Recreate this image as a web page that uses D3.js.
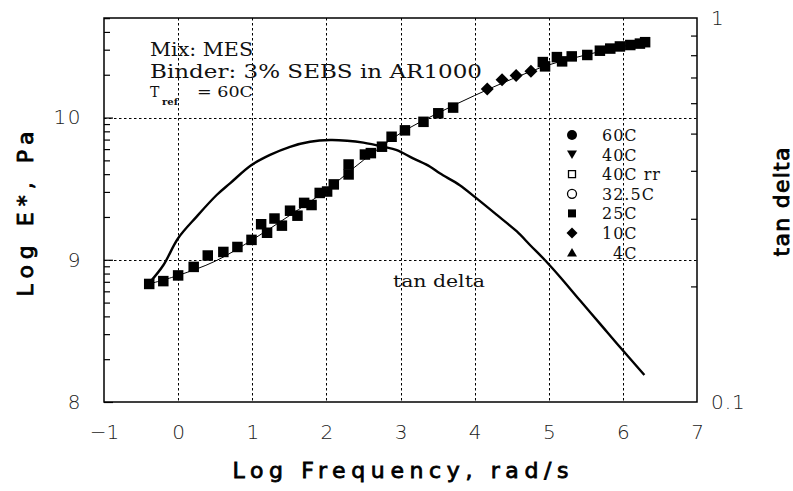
<!DOCTYPE html>
<html>
<head>
<meta charset="utf-8">
<script src="https://cdn.jsdelivr.net/npm/d3@7"></script>
<style>
  body { margin: 0; background: #fff; }
  svg { display: block; }
</style>
</head>
<body>
<svg id="chart" width="793" height="491"></svg>
<script>
// Master curve of |E*| reduced to 60C (log10 frequency, rad/s vs log10 E*, Pa)
const sqFreq = [-0.39, -0.20, 0.00, 0.21, 0.40, 0.61, 0.80, 0.99, 1.12, 1.20, 1.30, 1.40,
                1.51, 1.61, 1.70, 1.80, 1.91, 2.01, 2.10, 2.30, 2.30, 2.52, 2.60, 2.75,
                2.88, 3.06, 3.31, 3.51, 3.71, 4.92, 4.95, 5.11, 5.18, 5.31, 5.52, 5.69,
                5.83, 5.96, 6.10, 6.23, 6.30];
const sqLogE = [8.83, 8.85, 8.89, 8.95, 9.03, 9.055, 9.09, 9.14, 9.25, 9.19, 9.29, 9.24,
                9.345, 9.31, 9.40, 9.385, 9.47, 9.48, 9.53, 9.67, 9.60, 9.74, 9.75, 9.795,
                9.865, 9.91, 9.97, 10.03, 10.07, 10.39, 10.36, 10.425, 10.395, 10.43, 10.44, 10.47,
                10.485, 10.50, 10.51, 10.52, 10.53];
const dmFreq = [4.17, 4.37, 4.56, 4.76];
const dmLogE = [10.20, 10.265, 10.295, 10.325];

// Smooth fit through the master curve
const fitFreq = [-0.39, 0.0, 0.5, 1.0, 1.5, 2.0, 2.5, 3.0, 3.5, 4.0, 4.5, 5.0, 5.5, 6.0, 6.30];
const fitLogE = [8.83, 8.89, 8.99, 9.14, 9.31, 9.49, 9.70, 9.89, 10.03, 10.155, 10.27, 10.37, 10.44, 10.50, 10.53];

// tan delta master curve (right axis)
const tdFreq = [-0.39, -0.20, 0.00, 0.25, 0.52, 0.70, 0.99, 1.24, 1.51, 1.78, 2.05, 2.28,
                2.50, 2.77, 2.95, 3.17, 3.40, 3.53, 3.80, 4.01, 4.30, 4.57, 4.75, 4.95,
                5.15, 5.42, 5.69, 5.96, 6.29];
const tanDelta = [0.204, 0.227, 0.267, 0.304, 0.346, 0.371, 0.414, 0.440, 0.462, 0.476, 0.481, 0.479,
                  0.4735, 0.462, 0.453, 0.431, 0.410, 0.394, 0.367, 0.341, 0.307, 0.278, 0.256, 0.234,
                  0.212, 0.184, 0.160, 0.139, 0.1176];

const legendLabels = ["60C", "40C", "40C rr", "32.5C", "25C", "10C", "4C"];
const legendSymbols = ["dot", "triDown", "boxOpen", "ring", "box", "diamond", "triUp"];

const xTicks = [-1, 0, 1, 2, 3, 4, 5, 6, 7];
const yTicks = [8, 9, 10];
const tdTickLabels = [0.1, 1];
const noteLines = ["Mix: MES", "Binder: 3% SEBS in AR1000"];

const svg = d3.select("#chart");
const L = 104, R = 697, T = 18, B = 402;

const x = d3.scaleLinear().domain([-1, 7]).range([L, R]);
const y = d3.scaleLinear().domain([8, 10.7]).range([B, T]);
const yR = d3.scaleLog().domain([0.1, 1]).range([B, T]);

const tickFont = "'DejaVu Sans', 'Liberation Sans', sans-serif";
const serif = "'DejaVu Serif', 'Liberation Serif', serif";
const labelFont = "'DejaVu Sans', 'Liberation Sans', sans-serif";

// grid
const grid = svg.append("g").attr("stroke", "#000").attr("stroke-width", 1)
  .attr("stroke-dasharray", "2.5,2.5").attr("fill", "none");
grid.selectAll("line.v").data(xTicks.filter(d => d > -1 && d < 7)).join("line")
  .attr("x1", d => Math.round(x(d)) + 0.5).attr("x2", d => Math.round(x(d)) + 0.5)
  .attr("y1", T).attr("y2", B);
grid.selectAll("line.h").data(yTicks.filter(d => d > 8)).join("line")
  .attr("x1", L).attr("x2", R)
  .attr("y1", d => Math.round(y(d)) + 0.5).attr("y2", d => Math.round(y(d)) + 0.5);

// left axis ticks (inward)
const leftMinor = [];
[8, 9, 10].forEach(dec => {
  for (let k = 2; k <= 9; k++) {
    const v = dec + Math.log10(k);
    if (v < 10.7) leftMinor.push(v);
  }
});
const axL = svg.append("g").attr("transform", `translate(${L},0)`)
  .call(d3.axisRight(y).tickValues(leftMinor).tickSize(6).tickFormat(""));
const axLmaj = svg.append("g").attr("transform", `translate(${L},0)`)
  .call(d3.axisRight(y).tickValues(yTicks).tickSize(9).tickFormat(""));
[axL, axLmaj].forEach(g => { g.select(".domain").remove(); g.selectAll("line").attr("stroke-width", 1.2); });

const axLlab = svg.append("g").attr("transform", `translate(${L},0)`)
  .call(d3.axisLeft(y).tickValues(yTicks).tickSize(0).tickPadding(22).tickFormat(d3.format("d")));
axLlab.select(".domain").remove();
axLlab.selectAll("text").attr("font-family", tickFont).attr("font-size", 20)
  .attr("font-weight", 300).attr("fill", "#222").attr("letter-spacing", 1.5);

// right axis ticks (inward, log)
const rightMinor = d3.range(2, 10).map(k => k / 10);
const axR = svg.append("g").attr("transform", `translate(${R},0)`)
  .call(d3.axisLeft(yR).tickValues(rightMinor).tickSize(6).tickFormat(""));
axR.select(".domain").remove();
axR.selectAll("line").attr("stroke-width", 1.2);

const axRlab = svg.append("g").attr("transform", `translate(${R},0)`)
  .call(d3.axisRight(yR).tickValues(tdTickLabels).tickSize(0).tickPadding(14)
    .tickFormat(d => d === 1 ? "1" : "0.1"));
axRlab.select(".domain").remove();
axRlab.selectAll("text").attr("font-family", tickFont).attr("font-size", 20)
  .attr("font-weight", 300).attr("fill", "#222").attr("letter-spacing", 1);

// bottom axis labels
const axB = svg.append("g").attr("transform", `translate(0,${B})`)
  .call(d3.axisBottom(x).tickValues(xTicks).tickSize(0).tickFormat(d => d < 0 ? "\u22121" : String(d)));
axB.select(".domain").remove();
axB.selectAll("text").attr("y", 37).attr("dy", 0).attr("font-family", tickFont)
  .attr("font-size", 20).attr("font-weight", 300).attr("fill", "#222");

// frame
svg.append("rect").attr("x", L).attr("y", T).attr("width", R - L).attr("height", B - T)
  .attr("fill", "none").attr("stroke", "#000").attr("stroke-width", 1.5);

// fit line through E*
const line = d3.line().x(d => x(d[0])).y(d => y(d[1])).curve(d3.curveCatmullRom);
svg.append("path").datum(d3.zip(fitFreq, fitLogE)).attr("d", line)
  .attr("fill", "none").attr("stroke", "#000").attr("stroke-width", 1);

// tan delta curve
const tdLine = d3.line().x(d => x(d[0])).y(d => yR(d[1])).curve(d3.curveCatmullRom);
svg.append("path").datum(d3.zip(tdFreq, tanDelta)).attr("d", tdLine)
  .attr("fill", "none").attr("stroke", "#000").attr("stroke-width", 2.4)
  .attr("stroke-linejoin", "round");

// symbol shapes
function shape(type, s) {
  const h = s / 2;
  switch (type) {
    case "box": case "boxOpen": return `M${-h},${-h}H${h}V${h}H${-h}Z`;
    case "diamond": return `M0,${-h}L${h},0L0,${h}L${-h},0Z`;
    case "triUp": return `M0,${-h * 0.9}L${h},${h * 0.8}L${-h},${h * 0.8}Z`;
    case "triDown": return `M${-h},${-h * 0.8}L${h},${-h * 0.8}L0,${h * 0.9}Z`;
    default: return d3.arc()({ innerRadius: 0, outerRadius: h, startAngle: 0, endAngle: 2 * Math.PI });
  }
}

// data markers
svg.append("g").selectAll("path").data(d3.zip(sqFreq, sqLogE)).join("path")
  .attr("transform", d => `translate(${x(d[0])},${y(d[1])})`)
  .attr("d", shape("box", 10.5)).attr("fill", "#000");
svg.append("g").selectAll("path").data(d3.zip(dmFreq, dmLogE)).join("path")
  .attr("transform", d => `translate(${x(d[0])},${y(d[1])})`)
  .attr("d", shape("diamond", 13)).attr("fill", "#000");

// legend
const lg = svg.append("g");
const rowY = i => 135 + i * 19.6;
legendSymbols.forEach((s, i) => {
  const open = s === "boxOpen" || s === "ring";
  const size = { dot: 10, triDown: 10, boxOpen: 7, ring: 9, box: 8, diamond: 11, triUp: 10 }[s];
  lg.append("path").attr("transform", `translate(572,${rowY(i)})`)
    .attr("d", shape(s, size))
    .attr("fill", open ? "#fff" : "#000").attr("stroke", "#000")
    .attr("stroke-width", open ? 1.3 : 0);
  lg.append("text").attr("x", legendLabels[i] === "4C" ? 613 : 602).attr("y", rowY(i) + 6)
    .attr("font-family", serif).attr("font-size", 16).attr("letter-spacing", 1)
    .attr("fill", "#111").text(legendLabels[i]);
});

// notes
const noteWidths = [103, 332];
noteLines.forEach((t, i) => {
  svg.append("text").attr("x", 150).attr("y", 56 + i * 22)
    .attr("font-family", serif).attr("font-size", 18).attr("fill", "#111")
    .attr("textLength", noteWidths[i]).attr("lengthAdjust", "spacingAndGlyphs").text(t);
});
svg.append("text").attr("x", 150).attr("y", 97).attr("font-family", serif)
  .attr("font-size", 14).attr("fill", "#111").text("T");
svg.append("text").attr("x", 162).attr("y", 105).attr("font-family", serif)
  .attr("font-size", 10).attr("font-weight", "bold").attr("fill", "#111").text("ref");
svg.append("text").attr("x", 197).attr("y", 97).attr("font-family", serif)
  .attr("font-size", 14).attr("fill", "#111")
  .attr("textLength", 56).attr("lengthAdjust", "spacingAndGlyphs").text("= 60C");

svg.append("text").attr("x", 393).attr("y", 287).attr("font-family", serif)
  .attr("font-size", 16).attr("fill", "#111")
  .attr("textLength", 92).attr("lengthAdjust", "spacingAndGlyphs").text("tan delta");

// axis titles
function title(sel) {
  return sel.attr("text-anchor", "middle").attr("font-family", labelFont)
    .attr("font-size", 22).attr("fill", "#000").attr("stroke", "#000").attr("stroke-width", 0.8)
    .attr("lengthAdjust", "spacing");
}
title(svg.append("text").attr("x", (L + R) / 2).attr("y", 478))
  .attr("textLength", 336).text("Log Frequency, rad/s");
title(svg.append("text").attr("transform", `translate(33,${(T + B) / 2 + 4}) rotate(-90)`))
  .attr("textLength", 165).text("Log E*, Pa");
title(svg.append("text").attr("transform", `translate(789,${(T + B) / 2 - 8}) rotate(-90)`))
  .attr("textLength", 109).text("tan delta");
</script>
</body>
</html>
